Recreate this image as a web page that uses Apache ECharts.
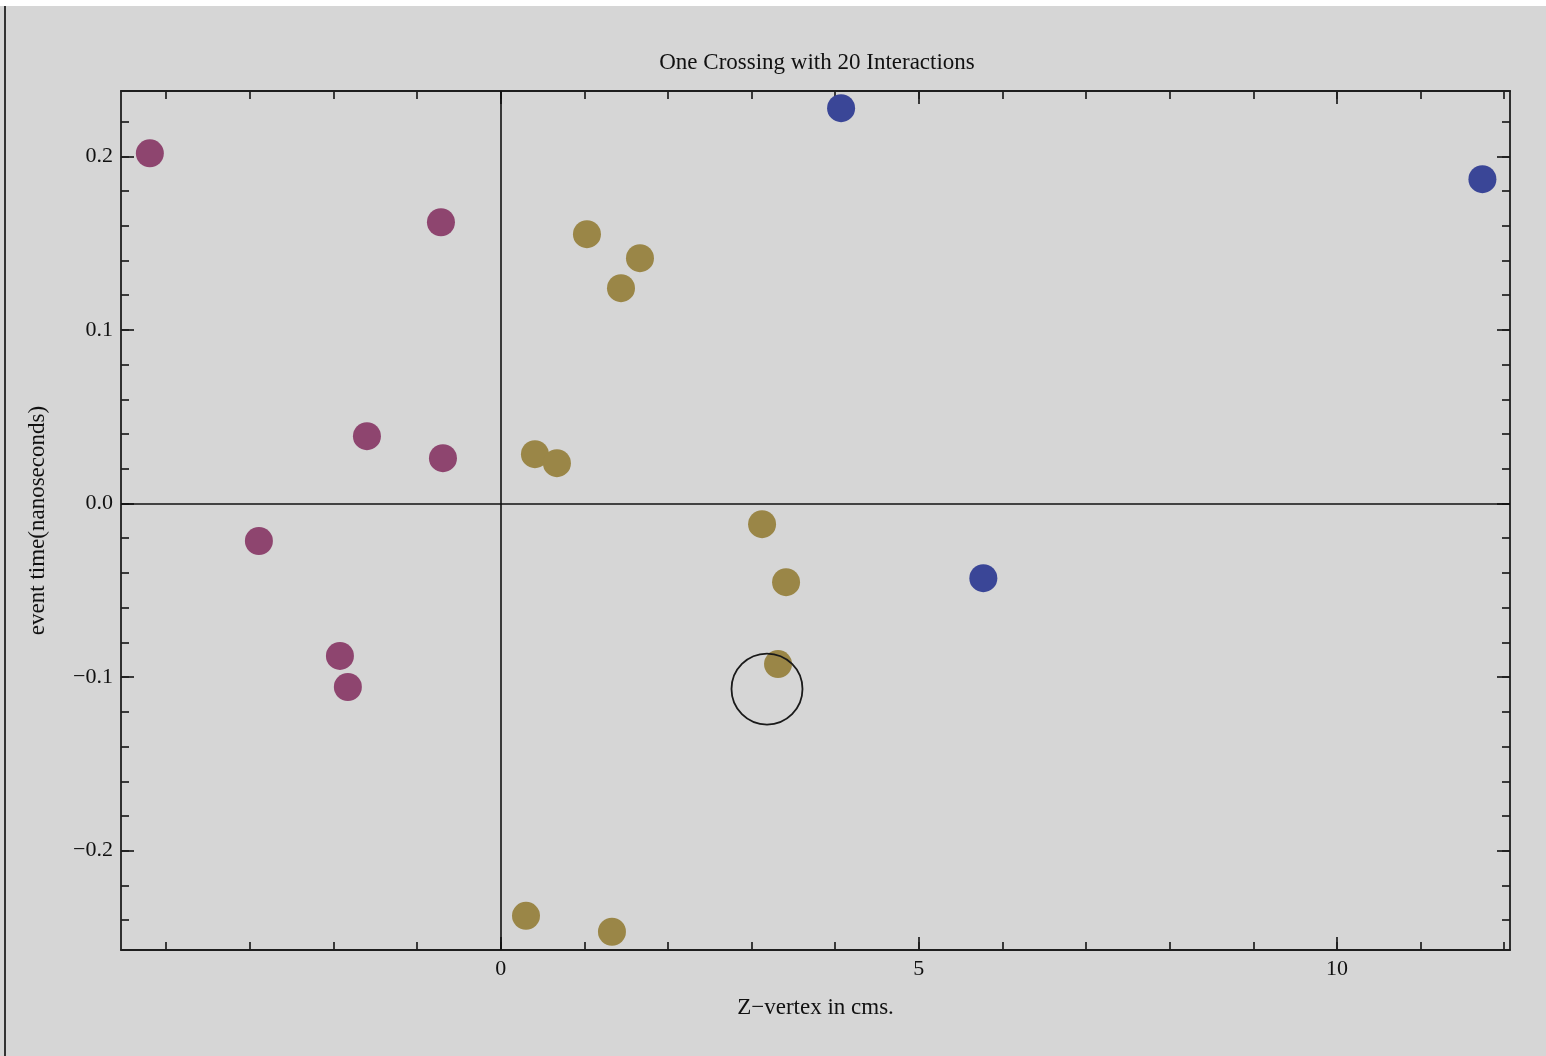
<!DOCTYPE html>
<html>
<head>
<meta charset="utf-8">
<script src="https://cdn.jsdelivr.net/npm/echarts@6/dist/echarts.min.js"></script>
<style>
html,body{margin:0;padding:0;background:#d6d6d6;overflow:hidden;}
#topstrip{position:absolute;left:0;top:0;width:1546px;height:6px;background:#ffffff;}
#leftline{position:absolute;left:4px;top:6px;width:2px;height:1050px;background:#333;}
#chart{position:absolute;left:0;top:0;width:1546px;height:1056px;}
</style>
</head>
<body>
<div id="topstrip"></div>
<div id="leftline"></div>
<div id="chart"></div>
<script>
// Data
const titleText = 'One Crossing with 20 Interactions';
const xAxisName = 'Z\u2212vertex in cms.';
const yAxisName = 'event time(nanoseconds)';
const xRange = [-4.54, 12.07];
const yRange = [-0.2572, 0.2376];
const xMajorTicks = [0, 5, 10];
const xMinorTicks = [-4, -3, -2, -1, 0, 1, 2, 3, 4, 5, 6, 7, 8, 9, 10, 11, 12];
const yMajorTicks = [-0.2, -0.1, 0.0, 0.1, 0.2];
const yMinorTicks = [-0.24, -0.22, -0.2, -0.18, -0.16, -0.14, -0.12, -0.1, -0.08, -0.06, -0.04, -0.02,
  0.0, 0.02, 0.04, 0.06, 0.08, 0.1, 0.12, 0.14, 0.16, 0.18, 0.2, 0.22];

const magentaX = [-4.195, -0.714, -1.599, -0.690, -2.891, -1.922, -1.827];
const magentaY = [0.2017, 0.1620, 0.0388, 0.0261, -0.0216, -0.0878, -0.1057];

const goldX = [1.032, 1.666, 1.439, 0.410, 0.673, 3.126, 3.413, 3.317, 0.303, 1.331];
const goldY = [0.1551, 0.1413, 0.1240, 0.0284, 0.0232, -0.0119, -0.0453, -0.0925, -0.2375, -0.2467];

const blueX = [4.071, 11.74, 5.772];
const blueY = [0.2277, 0.1868, -0.0430];

const circleX = [3.185];
const circleY = [-0.1069];

const pairs = (xs, ys) => xs.map((x, i) => [x, ys[i]]);

const FONT = '"Liberation Serif", "DejaVu Serif", serif';
const LINE = '#1e1e1e';

function fmtX(v) {
  const r = Math.round(v);
  return r < 0 ? '\u2212' + Math.abs(r) : String(r);
}
function fmtY(v) {
  const r = Math.round(v * 10) / 10;
  const s = Math.abs(r).toFixed(1);
  return r < -1e-9 ? '\u2212' + s : s;
}

function xAxisDef(pos, ticks, tickLen, showLabel, showLine, extra) {
  return Object.assign({
    type: 'value', position: pos, min: xRange[0], max: xRange[1],
    axisLine: { show: showLine, onZero: false, lineStyle: { color: LINE, width: 1.8 } },
    axisTick: { show: true, inside: true, length: tickLen, customValues: ticks,
      lineStyle: { color: LINE, width: 1.7 } },
    axisLabel: { show: showLabel, customValues: xMajorTicks, formatter: fmtX,
      fontFamily: FONT, fontSize: 22, color: '#111', margin: 8 },
    splitLine: { show: false }
  }, extra || {});
}
function yAxisDef(pos, ticks, tickLen, showLabel, showLine, extra) {
  return Object.assign({
    type: 'value', position: pos, min: yRange[0], max: yRange[1],
    axisLine: { show: showLine, onZero: false, lineStyle: { color: LINE, width: 1.8 } },
    axisTick: { show: true, inside: true, length: tickLen, customValues: ticks,
      lineStyle: { color: LINE, width: 1.7 } },
    axisLabel: { show: showLabel, customValues: yMajorTicks, formatter: fmtY,
      fontFamily: FONT, fontSize: 22, color: '#111', margin: 8 },
    splitLine: { show: false }
  }, extra || {});
}

const chart = echarts.init(document.getElementById('chart'), null, { renderer: 'canvas' });
chart.setOption({
  backgroundColor: 'transparent',
  animation: false,
  title: {
    text: titleText, left: 812, top: 46, textAlign: 'center',
    textStyle: { fontFamily: FONT, fontSize: 23, fontWeight: 'normal', color: '#111' }
  },
  grid: { left: 121, right: 36, top: 91, bottom: 106, containLabel: false },
  xAxis: [
    xAxisDef('bottom', xMajorTicks, 13, true, true, {
      name: xAxisName, nameLocation: 'middle', nameGap: 46,
      nameTextStyle: { fontFamily: FONT, fontSize: 23, color: '#111' }
    }),
    xAxisDef('bottom', xMinorTicks, 8, false, false),
    xAxisDef('top', xMajorTicks, 13, false, true),
    xAxisDef('top', xMinorTicks, 8, false, false)
  ],
  yAxis: [
    yAxisDef('left', yMajorTicks, 13, true, true, {
      name: yAxisName, nameLocation: 'middle', nameGap: 72, nameRotate: 90,
      nameTextStyle: { fontFamily: FONT, fontSize: 23, color: '#111' }
    }),
    yAxisDef('left', yMinorTicks, 8, false, false),
    yAxisDef('right', yMajorTicks, 13, false, true),
    yAxisDef('right', yMinorTicks, 8, false, false)
  ],
  series: [
    {
      type: 'scatter', name: 'zero', data: [], xAxisIndex: 0, yAxisIndex: 0,
      markLine: {
        silent: true, symbol: ['none', 'none'], label: { show: false },
        lineStyle: { color: '#111', width: 1.6, type: 'solid' },
        data: [{ xAxis: 0 }, { yAxis: 0 }]
      }
    },
    {
      type: 'scatter', name: 'A', data: pairs(magentaX, magentaY), symbol: 'circle', symbolSize: 28,
      itemStyle: { color: '#8e456f', opacity: 1 }, z: 3
    },
    {
      type: 'scatter', name: 'B', data: pairs(goldX, goldY), symbol: 'circle', symbolSize: 28,
      itemStyle: { color: '#9a8647', opacity: 1 }, z: 3
    },
    {
      type: 'scatter', name: 'C', data: pairs(blueX, blueY), symbol: 'circle', symbolSize: 28,
      itemStyle: { color: '#3a4697', opacity: 1 }, z: 3
    },
    {
      type: 'scatter', name: 'vertex', data: pairs(circleX, circleY), symbol: 'circle', symbolSize: 71,
      itemStyle: { color: 'rgba(0,0,0,0)', borderColor: '#1a1a1a', borderWidth: 1.8, opacity: 1 }, z: 4
    }
  ]
});
</script>
</body>
</html>
